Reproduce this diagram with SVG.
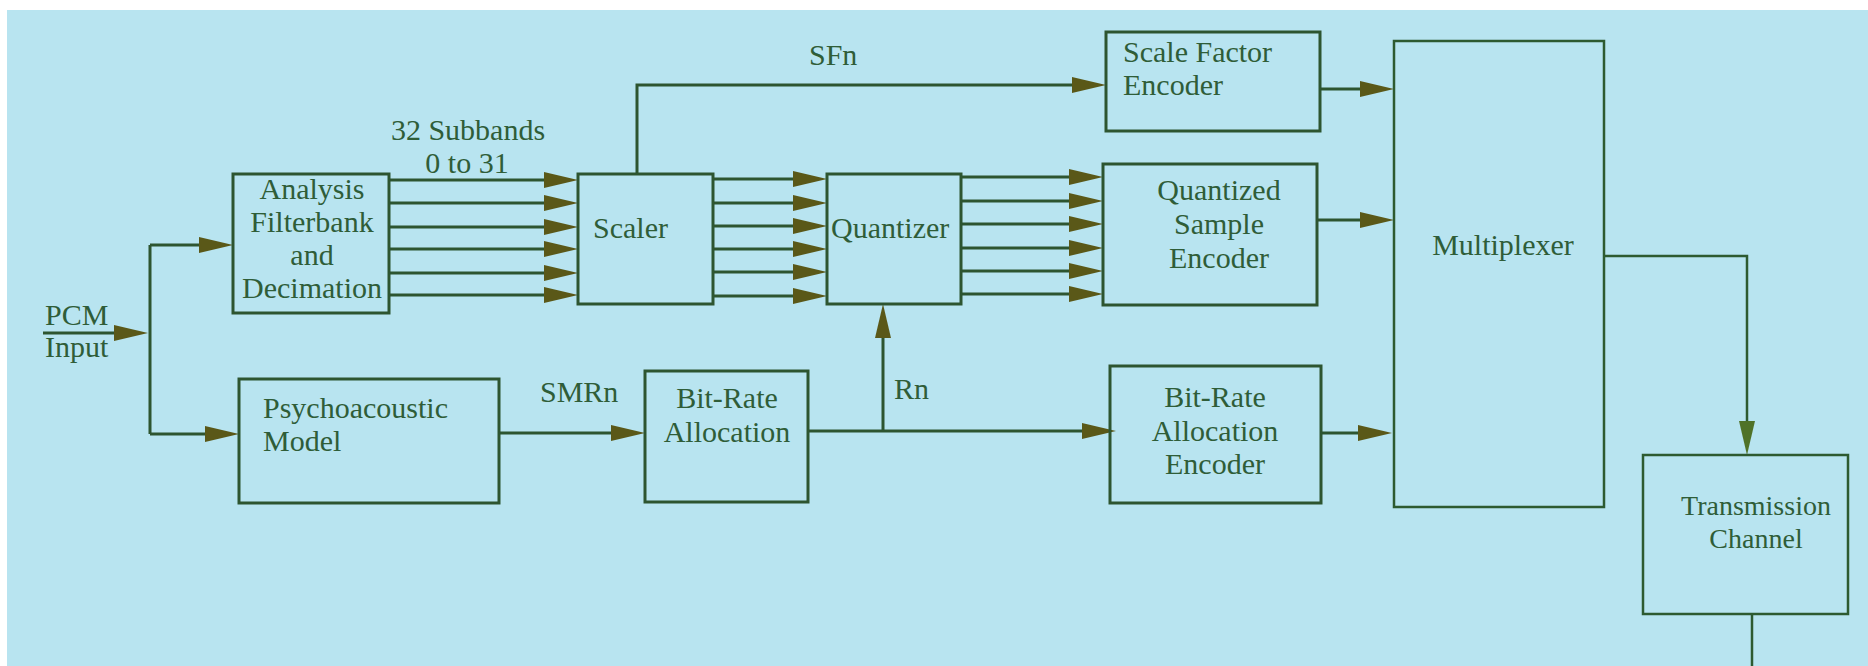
<svg xmlns="http://www.w3.org/2000/svg" width="1868" height="666" viewBox="0 0 1868 666">
<defs>
<marker id="ah" markerUnits="userSpaceOnUse" markerWidth="34" markerHeight="16" refX="24" refY="8" orient="auto" viewBox="0 0 34 16">
<path d="M0,0 L34,8 L0,16 Z" fill="#5a5818"/>
</marker>
<marker id="ahg" markerUnits="userSpaceOnUse" markerWidth="34" markerHeight="16" refX="24" refY="8" orient="auto" viewBox="0 0 34 16">
<path d="M0,0 L34,8 L0,16 Z" fill="#4f7228"/>
</marker>
</defs>
<style>
.box{fill:none;stroke:#2d5530;stroke-width:3}
.thin{fill:none;stroke:#2d5a30;stroke-width:2.5}
.ln{fill:none;stroke:#2d5530;stroke-width:3;marker-end:url(#ah)}
.lnp{fill:none;stroke:#2d5530;stroke-width:3}
.t{font-family:"Liberation Serif","Times New Roman",serif;font-size:30px;fill:#2f5d38}
.m{text-anchor:middle}
</style>
<rect x="0" y="0" width="1868" height="666" fill="#ffffff"/>
<rect x="7" y="10" width="1861" height="656" fill="#b8e4f0"/>

<g id="connectors">
<path class="ln" d="M43,333 H138"/>
<path class="lnp" d="M150,245 V434"/>
<path class="ln" d="M150,245 H223"/>
<path class="ln" d="M150,434 H229"/>
<path class="ln" d="M389,180 H568"/>
<path class="ln" d="M389,203 H568"/>
<path class="ln" d="M389,227 H568"/>
<path class="ln" d="M389,249 H568"/>
<path class="ln" d="M389,273 H568"/>
<path class="ln" d="M389,295 H568"/>
<path class="ln" d="M713,179 H817"/>
<path class="ln" d="M713,203 H817"/>
<path class="ln" d="M713,226 H817"/>
<path class="ln" d="M713,249 H817"/>
<path class="ln" d="M713,272 H817"/>
<path class="ln" d="M713,296 H817"/>
<path class="ln" d="M961,177 H1093"/>
<path class="ln" d="M961,201 H1093"/>
<path class="ln" d="M961,224 H1093"/>
<path class="ln" d="M961,248 H1093"/>
<path class="ln" d="M961,271 H1093"/>
<path class="ln" d="M961,294 H1093"/>
<path class="ln" d="M637,174 V85 H1096"/>
<path class="ln" d="M1320,89 H1384"/>
<path class="ln" d="M1317,220 H1384"/>
<path class="ln" d="M1321,433 H1382"/>
<path class="ln" d="M499,433 H635"/>
<path class="ln" d="M808,431 H1106"/>
<path class="ln" d="M883,431 V314"/>
<path class="thin" d="M1604,256 H1747 V445" style="marker-end:url(#ahg)"/>
<path class="thin" d="M1752,614 V666"/>
</g>

<g id="pcm-input">
<text class="t" x="45" y="325">PCM</text>
<text class="t" x="45" y="357">Input</text>
</g>
<g id="subbands-label">
<text class="t m" x="468" y="140">32 Subbands</text>
<text class="t m" x="467" y="173">0 to 31</text>
</g>
<g id="analysis">
<rect class="box" x="233" y="174" width="156" height="139"/>
<text class="t m" x="312" y="199">Analysis</text>
<text class="t m" x="312" y="232">Filterbank</text>
<text class="t m" x="312" y="265">and</text>
<text class="t m" x="312" y="298">Decimation</text>
</g>
<g id="psycho">
<rect class="box" x="239" y="379" width="260" height="124"/>
<text class="t" x="263" y="418">Psychoacoustic</text>
<text class="t" x="263" y="451">Model</text>
</g>
<g id="smrn-label"><text class="t" x="540" y="402">SMRn</text></g>
<g id="scaler">
<rect class="box" x="578" y="174" width="135" height="130"/>
<text class="t" x="593" y="238">Scaler</text>
</g>
<g id="sfn-label"><text class="t" x="809" y="65">SFn</text></g>
<g id="quantizer">
<rect class="box" x="827" y="174" width="134" height="130"/>
<text class="t" x="831" y="238">Quantizer</text>
</g>
<g id="bitrate-allocation">
<rect class="box" x="645" y="371" width="163" height="131"/>
<text class="t m" x="727" y="408">Bit-Rate</text>
<text class="t m" x="727" y="442">Allocation</text>
</g>
<g id="rn-label"><text class="t" x="894" y="399">Rn</text></g>
<g id="scale-factor-encoder">
<rect class="box" x="1106" y="32" width="214" height="99"/>
<text class="t" x="1123" y="62">Scale Factor</text>
<text class="t" x="1123" y="95">Encoder</text>
</g>
<g id="quantized-sample-encoder">
<rect class="box" x="1103" y="164" width="214" height="141"/>
<text class="t m" x="1219" y="200">Quantized</text>
<text class="t m" x="1219" y="234">Sample</text>
<text class="t m" x="1219" y="268">Encoder</text>
</g>
<g id="bitrate-allocation-encoder">
<rect class="box" x="1110" y="366" width="211" height="137"/>
<text class="t m" x="1215" y="407">Bit-Rate</text>
<text class="t m" x="1215" y="441">Allocation</text>
<text class="t m" x="1215" y="474">Encoder</text>
</g>
<g id="multiplexer">
<rect class="thin" x="1394" y="41" width="210" height="466"/>
<text class="t m" x="1503" y="255">Multiplexer</text>
</g>
<g id="transmission-channel">
<rect class="thin" x="1643" y="455" width="205" height="159"/>
<text class="t m" x="1756" y="515" style="font-size:28px">Transmission</text>
<text class="t m" x="1756" y="548" style="font-size:28px">Channel</text>
</g>
</svg>
